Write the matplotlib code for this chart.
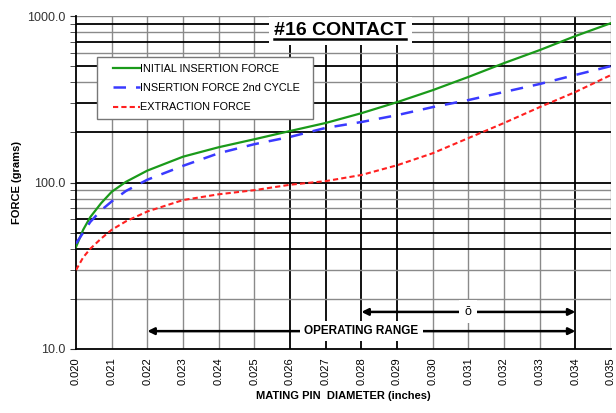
import matplotlib.pyplot as plt
from matplotlib.lines import Line2D
from matplotlib.patches import Rectangle

# pin diameter (inches) and force readings (grams)
diameter = [0.0200, 0.0202, 0.0204, 0.0207, 0.0210, 0.0214, 0.0220, 0.0230, 0.0240,
            0.0250, 0.0260, 0.0270, 0.0280, 0.0290, 0.0300, 0.0310, 0.0320, 0.0330,
            0.0340, 0.0350]
initial_force = [41, 52, 62, 75, 88, 101, 118, 143, 163,
                 182, 204, 228, 261, 304, 359, 431, 522, 625, 759, 908]
second_force = [43, 50, 58, 68, 77, 89, 104, 126, 150,
                170, 188, 213, 231, 254, 284, 313, 350, 391, 443, 501]
extraction_force = [29.8, 35.5, 40, 46, 52, 58.5, 67, 78.5, 85,
                    90, 97, 102, 111, 127, 150, 185, 228, 284, 350, 443]

x_ticks = [0.020 + 0.001 * i for i in range(16)]
x_tick_labels = ["%.3f" % t for t in x_ticks]
y_ticks = [10, 100, 1000]
y_tick_labels = ["10.0", "100.0", "1000.0"]
y_minor = [20, 30, 40, 50, 60, 70, 80, 90, 200, 300, 400, 500, 600, 700, 800, 900]

dark_x = [0.026, 0.027, 0.028, 0.029, 0.034]
dark_y = [40, 50, 60, 100, 200, 300, 500, 700, 900]

range_start, range_end = 0.022, 0.034
delta_start, delta_end = 0.028, 0.034

plt.rcParams['font.family'] = ['Liberation Sans', 'DejaVu Sans']

fig = plt.figure(figsize=(6.16, 4.13), dpi=100)
ax = fig.add_axes([0.1234, 0.155, 0.8686, 0.806])
ax.set_yscale("log")
ax.set_xlim(0.020, 0.035)
ax.set_ylim(10, 1000)

# grid lines drawn one by one so some can be darker
for t in x_ticks[1:]:
    dark = any(abs(t - d) < 1e-6 for d in dark_x)
    ax.axvline(t, color="black" if dark else "#8a8a8a", lw=1.3 if dark else 1.0, zorder=0)
for v in y_minor + [100, 1000]:
    dark = v in dark_y
    ax.axhline(v, color="black" if dark else "#8a8a8a", lw=1.3 if dark else 1.0, zorder=0)

ax.plot(diameter, initial_force, color="#1a9a1a", lw=1.6, label="INITIAL INSERTION FORCE", zorder=3)
ax.plot(diameter, second_force, color="#3a3aff", lw=1.8, ls=(0, (5, 4)),
        label="INSERTION FORCE 2nd CYCLE", zorder=3)
ax.plot(diameter, extraction_force, color="#ff2020", lw=1.5, ls=(0, (2.5, 1.5)),
        label="EXTRACTION FORCE", zorder=3)

ax.set_xticks(x_ticks)
ax.set_xticklabels(x_tick_labels, rotation=90, fontsize=8)
ax.set_yticks(y_ticks)
ax.set_yticklabels(y_tick_labels, fontsize=9)
ax.set_yticks(y_minor, minor=True)
ax.yaxis.set_minor_formatter(plt.NullFormatter())
ax.tick_params(axis="y", which="both", length=4, colors="#333333")
ax.tick_params(axis="x", length=0, pad=6)
for s in ["top", "right"]:
    ax.spines[s].set_visible(False)
ax.spines["left"].set_linewidth(1.3)
ax.spines["bottom"].set_linewidth(1.3)

ax.set_ylabel("FORCE (grams)", fontsize=8, fontweight="bold")
ax.set_xlabel("MATING PIN  DIAMETER (inches)", fontsize=8, fontweight="bold", labelpad=4)

# legend box drawn separately so the handles sit further in from the frame
ax.add_patch(Rectangle((0.039, 0.691), 0.404, 0.186, transform=ax.transAxes,
                       facecolor="white", edgecolor="#777777", lw=1.0, zorder=4.5))
leg = ax.legend(loc="upper left", bbox_to_anchor=(0.069, 0.856), fontsize=7.8,
                handlelength=2.5, handletextpad=0.0, frameon=False,
                borderpad=0, labelspacing=0.85, borderaxespad=0)
leg.set_zorder(5)

# title with white box and underline
title = ax.text(0.494, 0.942, "#16 CONTACT", transform=ax.transAxes, ha="center", va="baseline",
                fontsize=14, fontweight="bold", zorder=6,
                bbox=dict(facecolor="white", edgecolor="none", pad=4))
fig.canvas.draw()
renderer = fig.canvas.get_renderer()
tb = title.get_window_extent(renderer)
base = ax.transAxes.transform((0, 0.942))
to_fig = fig.transFigure.inverted()
x0, y_u = to_fig.transform((tb.x0, base[1] - 4))
x1, _ = to_fig.transform((tb.x1, base[1] - 4))
fig.add_artist(Line2D([x0, x1], [y_u, y_u], transform=fig.transFigure,
                      color="black", lw=1.8, zorder=10))

# operating range arrows
ax.annotate("", xy=(range_start, 12.8), xytext=(range_end, 12.8),
            arrowprops=dict(arrowstyle="<|-|>", color="black", lw=1.8,
                            mutation_scale=10, shrinkA=0, shrinkB=0), zorder=4)
ax.text((range_start + range_end) / 2, 12.8, "OPERATING RANGE", ha="center", va="center",
        fontsize=8.5, fontweight="bold", zorder=5,
        bbox=dict(facecolor="white", edgecolor="none", pad=3))
ax.annotate("", xy=(delta_start, 16.7), xytext=(delta_end, 16.7),
            arrowprops=dict(arrowstyle="<|-|>", color="black", lw=1.8,
                            mutation_scale=10, shrinkA=0, shrinkB=0), zorder=4)
ax.text((delta_start + delta_end) / 2, 16.7, "ō", ha="center", va="center",
        fontsize=9, zorder=5, bbox=dict(facecolor="white", edgecolor="none", pad=4))

fig.savefig("out.png", dpi=100)
